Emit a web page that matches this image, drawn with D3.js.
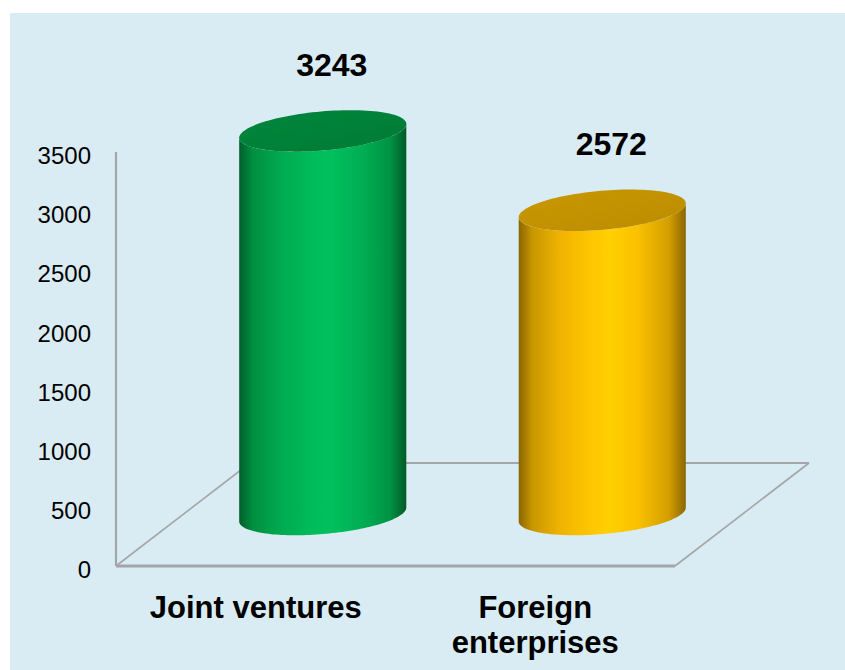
<!DOCTYPE html>
<html>
<head>
<meta charset="utf-8">
<script src="https://cdn.jsdelivr.net/npm/d3@7"></script>
<style>
  html, body { margin: 0; padding: 0; background: #ffffff; }
  svg { display: block; }
  text { font-family: "Liberation Sans", Arial, sans-serif; }
</style>
</head>
<body>
<svg id="chart" width="845" height="670"></svg>
<script>
// ---- data ----
const categories = ["Joint ventures", "Foreign enterprises"];
const categoryLabels = [["Joint ventures"], ["Foreign", "enterprises"]];
const values = [3243, 2572];
const yTicks = [0, 500, 1000, 1500, 2000, 2500, 3000, 3500];

// ---- styles ----
const palette = [
  { stops: ["#005f2a", "#008f40", "#00aa50", "#00bd5c", "#00c05e", "#00b055", "#009444", "#005a27"], top: "#00873c", topDark: "#007a35" },
  { stops: ["#8a6600", "#c89600", "#f0b400", "#ffc800", "#ffd000", "#f8c000", "#d49e00", "#8a6600"], top: "#c99800", topDark: "#bb8c00" }
];
const stopOffsets = [0, 0.08, 0.25, 0.45, 0.55, 0.72, 0.9, 1];

const svg = d3.select("#chart");
svg.append("rect").attr("x", 10).attr("y", 13).attr("width", 835).attr("height", 657).attr("fill", "#daecf3");

// ---- scales (front plane) ----
const x = d3.scaleBand().domain(categories).range([116, 675]).paddingInner(0).paddingOuter(0);
const y = d3.scaleLinear().domain([0, 3500]).range([566, 152]);
const depth = { dx: 134, dy: -103 };

// ---- floor ----
const floorPts = [
  [x.range()[0], y(0)],
  [x.range()[1], y(0)],
  [x.range()[1] + depth.dx, y(0) + depth.dy],
  [x.range()[0] + depth.dx, y(0) + depth.dy]
];
const gridColor = "#a3a6a8";
const floor = svg.append("g");
floor.append("line").attr("x1", floorPts[3][0]).attr("y1", floorPts[3][1]).attr("x2", floorPts[2][0]).attr("y2", floorPts[2][1])
  .attr("stroke", gridColor).attr("stroke-width", 2);
floor.append("line").attr("x1", floorPts[0][0]).attr("y1", floorPts[0][1]).attr("x2", floorPts[3][0]).attr("y2", floorPts[3][1])
  .attr("stroke", gridColor).attr("stroke-width", 1.6);
floor.append("line").attr("x1", floorPts[1][0]).attr("y1", floorPts[1][1]).attr("x2", floorPts[2][0]).attr("y2", floorPts[2][1])
  .attr("stroke", gridColor).attr("stroke-width", 1.6);
floor.append("line").attr("x1", floorPts[0][0]).attr("y1", floorPts[0][1]).attr("x2", floorPts[1][0]).attr("y2", floorPts[1][1])
  .attr("stroke", gridColor).attr("stroke-width", 3);
// vertical axis line
floor.append("line").attr("x1", x.range()[0]).attr("y1", y(0)).attr("x2", x.range()[0]).attr("y2", y(3500))
  .attr("stroke", gridColor).attr("stroke-width", 2.2);

// ---- y axis labels ----
const yAxis = d3.axisLeft(y).tickValues(yTicks).tickSize(0).tickPadding(25).tickFormat(d3.format("d"));
const yg = svg.append("g").attr("transform", `translate(${x.range()[0]},4)`).call(yAxis);
yg.select(".domain").remove();
yg.selectAll("text").attr("font-size", 24).attr("fill", "#000").attr("font-family", '"Liberation Sans", Arial, sans-serif');

// ---- gradients ----
const defs = svg.append("defs");
palette.forEach((p, i) => {
  const g = defs.append("linearGradient").attr("id", "body" + i).attr("x1", "0%").attr("x2", "100%").attr("y1", "0%").attr("y2", "0%");
  p.stops.forEach((c, k) => g.append("stop").attr("offset", stopOffsets[k]).attr("stop-color", c));
  const t = defs.append("linearGradient").attr("id", "top" + i).attr("x1", "0%").attr("x2", "100%").attr("y1", "0%").attr("y2", "100%");
  t.append("stop").attr("offset", 0).attr("stop-color", p.top);
  t.append("stop").attr("offset", 1).attr("stop-color", p.topDark);
});

// ---- cylinders ----
const rx = x.bandwidth() * 0.3;
const ry = 19.5;
const phi = -5 * Math.PI / 180;
function ellPt(cx, cy, t) {
  return [cx + rx * Math.cos(t) * Math.cos(phi) - ry * Math.sin(t) * Math.sin(phi),
          cy + rx * Math.cos(t) * Math.sin(phi) + ry * Math.sin(t) * Math.cos(phi)];
}
const tR = Math.atan2(-ry * Math.sin(phi), rx * Math.cos(phi));
const tL = tR + Math.PI;
const line = d3.line();

const bars = svg.append("g");
values.forEach((v, i) => {
  const cx = x(categories[i]) + x.bandwidth() / 2 + depth.dx / 2;
  const cyBase = y(0) + depth.dy / 2;
  const cyTop = y(v) + depth.dy / 2;
  const n = 80;
  const pts = [];
  // right side down, bottom front arc, left side up, top front arc back
  pts.push(ellPt(cx, cyTop, tR));
  for (let k = 0; k <= n; k++) pts.push(ellPt(cx, cyBase, tR + (tL - tR) * k / n));
  for (let k = 0; k <= n; k++) pts.push(ellPt(cx, cyTop, tL - (tL - tR) * k / n));
  bars.append("path").attr("d", line(pts) + "Z").attr("fill", `url(#body${i})`);
  const topPts = d3.range(0, 2 * Math.PI, Math.PI / 60).map(t => ellPt(cx, cyTop, t));
  bars.append("path").attr("d", line(topPts) + "Z").attr("fill", `url(#top${i})`);
  // value label
  svg.append("text")
    .attr("x", cx + 9)
    .attr("y", cyTop - 55)
    .attr("text-anchor", "middle")
    .attr("font-size", 32).attr("font-weight", "bold").attr("fill", "#000")
    .text(d3.format("d")(v));
});

// ---- category labels ----
categories.forEach((c, i) => {
  const t = svg.append("text")
    .attr("text-anchor", "middle")
    .attr("font-size", 31).attr("font-weight", "bold").attr("fill", "#000");
  categoryLabels[i].forEach((ln, k) => {
    t.append("tspan").attr("x", x(c) + x.bandwidth() / 2).attr("y", 618 + k * 35).text(ln);
  });
});
</script>
</body>
</html>
